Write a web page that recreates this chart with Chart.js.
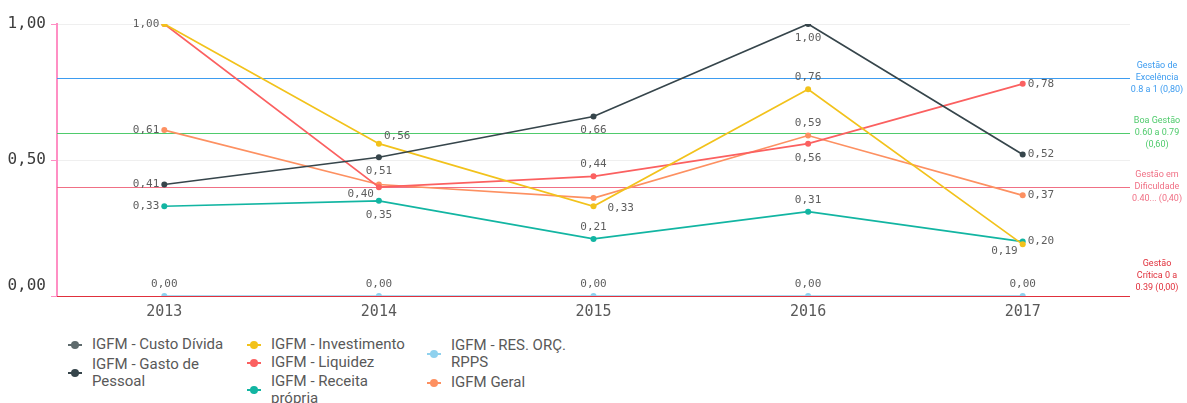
<!DOCTYPE html>
<html>
<head>
<meta charset="utf-8">
<script src="https://cdn.jsdelivr.net/npm/chart.js@4.4.1/dist/chart.umd.min.js"></script>
<style>
  html, body { margin: 0; padding: 0; background: #ffffff; }
  #wrap { position: relative; width: 1187px; height: 403px; overflow: hidden; }
  #c { position: absolute; left: 0; top: 0; }
  .lg { position: absolute; display: flex; align-items: center; font-family: Roboto, "Noto Sans", sans-serif; font-size: 15px; line-height: 17px; color: #595959; }
  .mk { position: relative; width: 14px; height: 8px; flex: none; margin-right: 10px; }
  .mk .ln { position: absolute; left: 0; right: 0; top: 3px; height: 2px; }
  .mk .dt { position: absolute; left: 3px; top: 0; width: 8px; height: 8px; border-radius: 50%; }
  .tx { flex: 1 1 auto; }
</style>
</head>
<body>
<div id="wrap">
  <canvas id="c" width="1187" height="325"></canvas>
</div>
<script>
// ---- data ----
const years = ['2013', '2014', '2015', '2016', '2017'];
const custoDivida    = [null, null, null, null, null];
const gastoPessoal   = [0.41, 0.51, 0.66, 1.00, 0.52];
const investimento   = [1.00, 0.56, 0.33, 0.76, 0.19];
const liquidez       = [1.00, 0.40, 0.44, 0.56, 0.78];
const receitaPropria = [0.33, 0.35, 0.21, 0.31, 0.20];
const resOrcRpps     = [0.00, 0.00, 0.00, 0.00, 0.00];
const igfmGeral      = [0.61, 0.41, 0.36, 0.59, 0.37];
const yTicks = [0, 0.5, 1];
const bandValues = [0.80, 0.60, 0.40, 0.00];
const bandTexts = [
  ['Gestão de', 'Excelência', '0.8 a 1 (0,80)'],
  ['Boa Gestão', '0.60 a 0.79', '(0,60)'],
  ['Gestão em', 'Dificuldade', '0.40... (0,40)'],
  ['Gestão', 'Crítica 0 a', '0.39 (0,00)']
];
const bandColors = ['#3d9cf0', '#4fcb6c', '#f07085', '#e0303c'];

const fmt = v => v.toFixed(2).replace('.', ',');

function ds(label, data, color, labelPos) {
  return {
    label, data, borderColor: color, backgroundColor: color,
    pointBackgroundColor: color, pointBorderColor: color,
    borderWidth: 1.7, pointRadius: 3, pointBorderWidth: 0, pointHoverRadius: 3, tension: 0,
    labelPos
  };
}

const datasets = [
  ds('IGFM - Custo Dívida', custoDivida, '#5f6b6d', ['', '', '', '', '']),
  ds('IGFM - Gasto de Pessoal', gastoPessoal, '#36454b', ['l', 'b', 'b', 'b', 'r']),
  ds('IGFM - Investimento', investimento, '#f2c21b', ['l', 'ar', 'br', 'a', 'bl']),
  ds('IGFM - Liquidez', liquidez, '#fb6060', ['', 'bl', 'a', 'b', 'r']),
  ds('IGFM - Receita própria', receitaPropria, '#12b5a2', ['l', 'b', 'a', 'a', 'r']),
  ds('IGFM - RES. ORÇ. RPPS', resOrcRpps, '#8fd1ee', ['a', 'a', 'a', 'a', 'a']),
  ds('IGFM Geral', igfmGeral, '#fd9061', ['l', '', '', 'a', 'r'])
];

const offsets = {
  a:  { dx: 0,   dy: -12, al: 'center' },
  b:  { dx: 0,   dy: 14,  al: 'center' },
  l:  { dx: -5,  dy: 0,   al: 'right' },
  r:  { dx: 5,   dy: 0,   al: 'left' },
  ar: { dx: 5,   dy: -8,  al: 'left' },
  bl: { dx: -5,  dy: 7,   al: 'right' },
  br: { dx: 14,  dy: 2,   al: 'left' }
};

const bandPlugin = {
  id: 'bands',
  beforeDatasetsDraw(chart) {
    const { ctx, chartArea, scales } = chart;
    ctx.save();
    bandValues.forEach((v, bi) => {
      const color = bandColors[bi];
      const y = Math.round(scales.y.getPixelForValue(v));
      ctx.fillStyle = color;
      ctx.fillRect(chartArea.left, y, chartArea.right - chartArea.left, 1);
      ctx.font = '9px Roboto, "Noto Sans", sans-serif';
      ctx.textAlign = 'center';
      ctx.textBaseline = 'middle';
      const cx = chartArea.right + 27;
      const base = v === 0 ? y - 32 : y - 12;
      bandTexts[bi].forEach((t, i) => ctx.fillText(t, cx, base + 12 * i));
    });
    ctx.restore();
  }
};

const labelPlugin = {
  id: 'pointLabels',
  afterDatasetsDraw(chart) {
    const { ctx } = chart;
    ctx.save();
    ctx.font = '11px "DejaVu Sans Mono", monospace';
    ctx.fillStyle = '#5e5e5e';
    ctx.textBaseline = 'middle';
    chart.data.datasets.forEach((d, di) => {
      const meta = chart.getDatasetMeta(di);
      meta.data.forEach((pt, i) => {
        const v = d.data[i];
        const code = d.labelPos[i];
        if (v === null || !code) return;
        const o = offsets[code];
        ctx.textAlign = o.al;
        ctx.fillText(fmt(v), pt.x + o.dx, pt.y + o.dy);
      });
    });
    ctx.restore();
  }
};

const chart = new Chart(document.getElementById('c'), {
  type: 'line',
  data: { labels: years, datasets },
  options: {
    responsive: false,
    devicePixelRatio: 1,
    animation: false,
    events: [],
    layout: { padding: { top: 24, right: 57, left: 0, bottom: 0 } },
    plugins: { legend: { display: false }, tooltip: { enabled: false } },
    scales: {
      x: {
        offset: true,
        grid: { display: false, drawTicks: false },
        border: { display: false },
        ticks: { padding: 7, color: '#595959', font: { family: '"DejaVu Sans Mono", monospace', size: 15 } },
        afterFit(s) { s.height = 29; }
      },
      y: {
        min: 0, max: 1,
        afterBuildTicks(s) { s.ticks = yTicks.map(v => ({ value: v })); },
        grid: { color: '#efefef', tickColor: '#ff8fc4', tickLength: 6, lineWidth: 1 },
        border: { color: '#ff8fc4', width: 2 },
        ticks: {
          padding: 5, color: '#3c3c3c',
          font: { family: '"DejaVu Sans Mono", monospace', size: 16, lineHeight: 1.3 },
          callback: v => (v === 0 ? [fmt(v), ''] : fmt(v))
        },
        afterFit(s) { s.width = 57; }
      }
    }
  },
  plugins: [bandPlugin, labelPlugin]
});

// ---- HTML legend (wrapping labels) ----
const legendSlots = [
  { left: 68,  top: 336, width: 168 },
  { left: 68,  top: 356, width: 168 },
  { left: 247, top: 336, width: 166 },
  { left: 247, top: 354, width: 166 },
  { left: 247, top: 373, width: 166 },
  { left: 427, top: 337, width: 150 },
  { left: 427, top: 374, width: 150 }
];
const wrap = document.getElementById('wrap');
datasets.forEach((d, i) => {
  const s = legendSlots[i];
  const el = document.createElement('div');
  el.className = 'lg';
  el.style.left = s.left + 'px';
  el.style.top = s.top + 'px';
  el.style.width = s.width + 'px';
  el.innerHTML = '<span class="mk"><span class="ln" style="background:' + d.borderColor + '"></span><span class="dt" style="background:' + d.borderColor + '"></span></span><span class="tx"></span>';
  el.querySelector('.tx').textContent = d.label;
  wrap.appendChild(el);
});
</script>
</body>
</html>
